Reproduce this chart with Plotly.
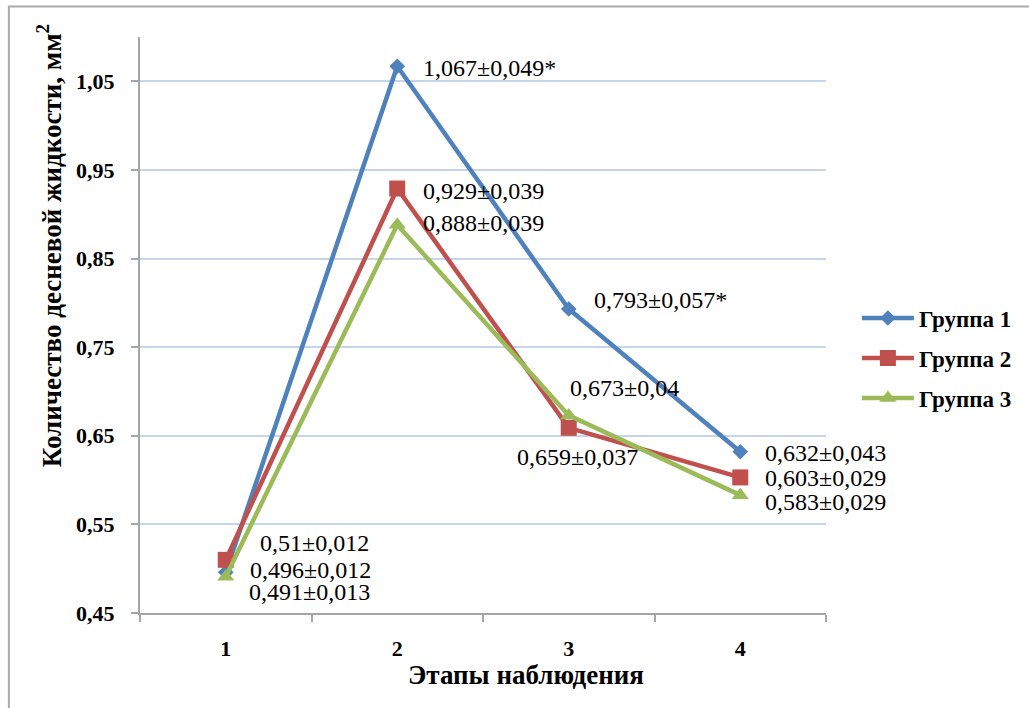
import plotly.graph_objects as go

# ---- data ----
stages = ["1", "2", "3", "4"]
group_names = ["Группа 1", "Группа 2", "Группа 3"]
group1 = [0.496, 1.067, 0.793, 0.632]
group2 = [0.51, 0.929, 0.659, 0.603]
group3 = [0.491, 0.888, 0.673, 0.583]
labels1 = ["0,496±0,012", "1,067±0,049*", "0,793±0,057*", "0,632±0,043"]
labels2 = ["0,51±0,012", "0,929±0,039", "0,659±0,037", "0,603±0,029"]
labels3 = ["0,491±0,013", "0,888±0,039", "0,673±0,04", "0,583±0,029"]
y_tickvals = [0.45, 0.55, 0.65, 0.75, 0.85, 0.95, 1.05]
y_ticktext = ["0,45", "0,55", "0,65", "0,75", "0,85", "0,95", "1,05"]
y_title = "Количество десневой жидкости, мм<sup>2</sup>"
x_title = "Этапы наблюдения"

# ---- styles / label offsets (pixels) ----
colors = ["#4F81BD", "#C0504D", "#9BBB59"]
symbols = ["diamond", "square", "triangle-up"]
msizes = [12, 16, 15]
xshift1 = [22, 24, 23, 23]; yshift1 = [2, -2, 9, -1]
xshift2 = [32, 24, -54, 23]; yshift2 = [17, -2, -29, -1]
xshift3 = [21, 24, -1, 23]; yshift3 = [-15, 2, 27, -7]

FONT = "Liberation Serif, Times New Roman, Tinos, serif"
W, H = 1029, 708
L, R, T, B = 140, 201, 37, 95
pw, ph = W - L - R, H - T - B

fig = go.Figure()
series = [group1, group2, group3]
labels = [labels1, labels2, labels3]
xs = [xshift1, xshift2, xshift3]
ys = [yshift1, yshift2, yshift3]
legends = ["legend", "legend2", "legend3"]

for i in range(3):
    fig.add_trace(go.Scatter(
        x=stages, y=series[i], mode="lines+markers", name=group_names[i],
        line=dict(color=colors[i], width=4.5),
        marker=dict(symbol=symbols[i], size=msizes[i], color=colors[i]),
        legend=legends[i],
    ))
    for j in range(4):
        fig.add_annotation(
            x=j, y=series[i][j], text=labels[i][j], showarrow=False,
            xanchor="left", yanchor="middle", xshift=xs[i][j], yshift=ys[i][j],
            font=dict(family=FONT, size=24, color="#000000"),
        )

def px_x(p):
    return (p - L) / pw

def px_y(p):
    return (H - B - p) / ph

# axis titles as annotations
fig.add_annotation(x=px_x(49), y=px_y(246), xref="paper", yref="paper",
                   text="<b>" + y_title + "</b>", textangle=-90, showarrow=False,
                   xanchor="center", yanchor="middle",
                   font=dict(family=FONT, size=27, color="#000000"))
fig.add_annotation(x=px_x(527), y=px_y(675), xref="paper", yref="paper",
                   text="<b>" + x_title + "</b>", showarrow=False,
                   xanchor="center", yanchor="middle",
                   font=dict(family=FONT, size=27, color="#000000"))

# outer chart border
fig.add_shape(type="rect", xref="paper", yref="paper",
              x0=px_x(8.5), x1=px_x(1045), y0=px_y(725), y1=px_y(6.5),
              line=dict(color="#ABABAB", width=2), fillcolor="rgba(0,0,0,0)")

legend_common = dict(font=dict(family=FONT, size=23, color="#000000", weight="bold"),
                     bgcolor="rgba(0,0,0,0)", xanchor="left", yanchor="middle",
                     itemwidth=52)
leg_y = [318, 358, 398]
layout_legends = {}
for i, lg in enumerate(legends):
    layout_legends[lg] = dict(x=px_x(859), y=px_y(leg_y[i]), **legend_common)

fig.update_layout(
    width=W, height=H, autosize=False,
    margin=dict(l=L, r=R, t=T, b=B, pad=0),
    paper_bgcolor="white", plot_bgcolor="white",
    showlegend=True,
    **layout_legends,
    xaxis=dict(
        type="category", range=[-0.5, 3.5], tickson="boundaries",
        ticks="outside", ticklen=7, tickcolor="#A6A6A6", tickwidth=2,
        showline=True, linecolor="#A6A6A6", linewidth=2,
        showgrid=False, zeroline=False,
        tickfont=dict(family=FONT, size=22, color="#000000", weight="bold"),
        ticklabelstandoff=15,
    ),
    yaxis=dict(
        range=[0.45, 1.1], tickvals=y_tickvals, ticktext=y_ticktext,
        ticks="outside", ticklen=7, tickcolor="#A6A6A6", tickwidth=2,
        showline=True, linecolor="#A6A6A6", linewidth=2,
        showgrid=True, gridcolor="#C5D5EC", gridwidth=1.5, zeroline=False,
        tickfont=dict(family=FONT, size=22, color="#000000", weight="bold"),
        ticklabelstandoff=12,
    ),
)

fig.write_html("out.html")
